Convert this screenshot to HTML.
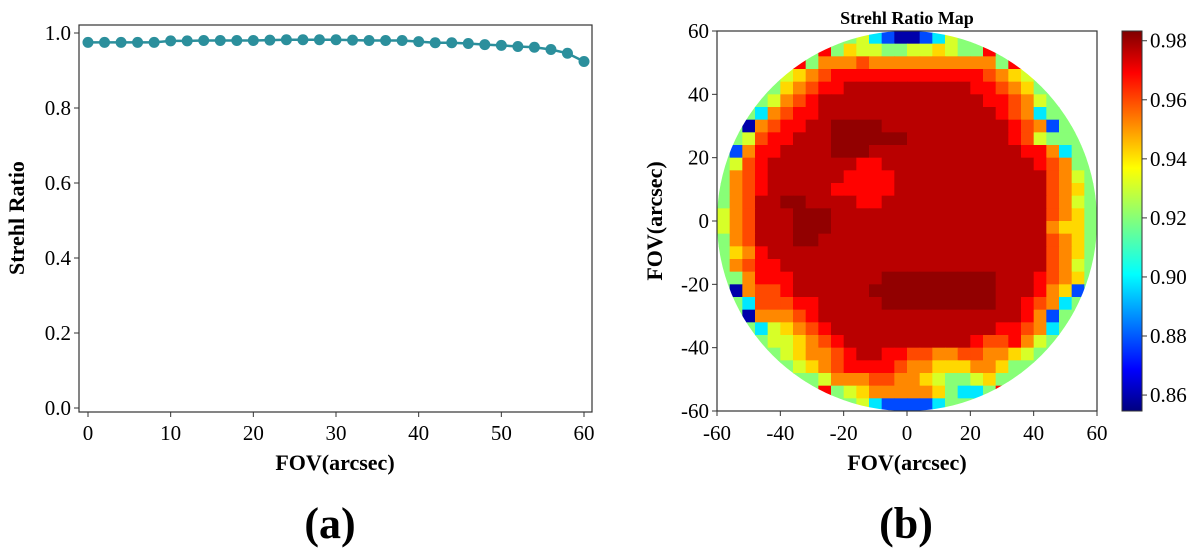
<!DOCTYPE html>
<html><head><meta charset="utf-8">
<style>
html,body{margin:0;padding:0;background:#fff;}
svg, svg text{font-family:"Liberation Serif","DejaVu Serif",serif;}
svg{display:block;}
</style></head>
<body>
<svg id="fig" width="1200" height="560" viewBox="0 0 1200 560" font-family="Liberation Serif, serif">
<defs>
<clipPath id="circ"><circle cx="907" cy="221" r="190"/></clipPath>
<linearGradient id="jet" x1="0" y1="1" x2="0" y2="0">
<stop offset="0" stop-color="#00007f"/><stop offset="0.11" stop-color="#0000ff"/><stop offset="0.36" stop-color="#00ffff"/><stop offset="0.5" stop-color="#7fff7f"/><stop offset="0.64" stop-color="#ffff00"/><stop offset="0.89" stop-color="#ff0000"/><stop offset="1" stop-color="#7f0000"/>
</linearGradient>
</defs>
<g id="left"></g>
<g id="right"></g>
<text x="330" y="538" text-anchor="middle" font-size="44" font-weight="bold">(a)</text>
<text x="906" y="538" text-anchor="middle" font-size="44" font-weight="bold">(b)</text>
</svg>
<script>
const fovValues = [0,2,4,6,8,10,12,14,16,18,20,22,24,26,28,30,32,34,36,38,40,42,44,46,48,50,52,54,56,58,60];
const strehlValues = [0.975,0.975,0.975,0.975,0.975,0.979,0.979,0.980,0.980,0.980,0.980,0.981,0.982,0.982,0.982,0.982,0.981,0.980,0.980,0.980,0.977,0.974,0.974,0.972,0.969,0.967,0.964,0.962,0.956,0.946,0.924];
const xTicksLeft = [0,10,20,30,40,50,60];
const yTicksLeft = [0.0,0.2,0.4,0.6,0.8,1.0];
const mapTicks = [-60,-40,-20,0,20,40,60];
const cbarTicks = [0.86,0.88,0.90,0.92,0.94,0.96,0.98];
const levelCodes = "BbcGgyOorRD";
const levelValues = [0.860,0.880,0.900,0.920,0.930,0.940,0.950,0.958,0.967,0.976,0.981];
const mapRows = [
"GGGGGGGGGGGgcbBBbcgGGGGGGGGGGG",
"GGGGGGGGrGyggGGggygGGrGGGGGGGG",
"GGGGGGrGOOOoOOOOOOOOOOGrGGGGGG",
"GGGGGgyOorrrrrrrrrrrroOygGGGGG",
"GGGGGyOorrRRRRRRRRRRrroOyGGGGG",
"GGGGgOorRRRRRRRRRRRRRrroOgGGGG",
"GGGcOorrRRRRRRRRRRRRRRroOcGGGG",
"GGBOorrRRDDDDRRRRRRRRRRroObGGG",
"GGgorrRRRDDDDDDRRRRRRRRrogGGGG",
"GbOrrRRRRDDDRRRRRRRRRRRRrrOcGG",
"GgorRRRRRRRrrRRRRRRRRRRRRroOGG",
"GOorRRRRRRrrrrRRRRRRRRRRRRoOgG",
"GOorRRRRRrrrrrRRRRRRRRRRRRoOyG",
"GOoRRDDRRRRrrRRRRRRRRRRRRRoOgG",
"gOoRRRDDDRRRRRRRRRRRRRRRRRoOyG",
"gOoRRRDDDRRRRRRRRRRRRRRRRROyyG",
"GOoRRRDDRRRRRRRRRRRRRRRRRRoOyG",
"GyOrRRRRRRRRRRRRRRRRRRRRRRoOyG",
"GOorrRRRRRRRRRRRRRRRRRRRRRoOgG",
"GGOrrrRRRRRRRDDDDDDDDDRRRroOyG",
"GBOoorRRRRRRDDDDDDDDDDRRRrOybG",
"GGcooorrRRRRRDDDDDDDDDRRroOcGG",
"GGBOOOorRRRRRRRRRRRRRRRRrObGGG",
"GGGcgyOorRRRRRRRRRRRRRrroOcGGG",
"GGGGggyOorRRRRRRRRRRroorOgGGGG",
"GGGGGgyOOorRRrrooOOooOOygGGGGG",
"GGGGGGgyOorrrroOOyyyOOyGGGGGGG",
"GGGGGGGGgOOOooOOygGGgyGGGGGGGG",
"GGGGGGGGrGgyOOOOOyGccGrGGGGGGG",
"GGGGGGGGGGGgcbbbbcGGGGGGGGGGGG"
];
const NS="http://www.w3.org/2000/svg";
function mk(parent,tag,attrs,text){const e=document.createElementNS(NS,tag);for(const k in attrs)e.setAttribute(k,attrs[k]);if(text!==undefined)e.textContent=text;parent.appendChild(e);return e;}

// ---------- left chart ----------
const L=document.getElementById('left');
const lx=v=>88+(v-0)*(584-88)/60;
const ly=v=>408-v*375;
let fr=mk(L,'rect',{x:79,y:25,width:513,height:387,fill:'none',stroke:'#333','stroke-width':1.2});


xTicksLeft.forEach(t=>{
  let tk=mk(L,'line',{x1:lx(t),x2:lx(t),y1:412,y2:417,stroke:'#333'});
  
  
  let tl=mk(L,'text',{x:lx(t),y:440,'text-anchor':'middle','font-size':21},String(t));
  
  
});
yTicksLeft.forEach(t=>{
  let tk=mk(L,'line',{x1:74,x2:79,y1:ly(t),y2:ly(t),stroke:'#333'});
  
  
  let tl=mk(L,'text',{x:71,y:ly(t)+7,'text-anchor':'end','font-size':21},t.toFixed(1));
  
  
});
let xt=mk(L,'text',{x:335,y:470,'text-anchor':'middle','font-size':22,'font-weight':'bold'},'FOV(arcsec)');


let yt=mk(L,'text',{x:0,y:0,transform:'translate(24,218) rotate(-90)','text-anchor':'middle','font-size':22,'font-weight':'bold'},'Strehl Ratio');


let pts=fovValues.map((f,i)=>lx(f)+','+ly(strehlValues[i])).join(' ');
let pl=mk(L,'polyline',{points:pts,fill:'none',stroke:'#2b8f9c','stroke-width':2.5});


fovValues.forEach((f,i)=>{
  let c=mk(L,'circle',{cx:lx(f),cy:ly(strehlValues[i]),r:5.5,fill:'#2b8f9c'});
  
  
});

// ---------- right map ----------
const R=document.getElementById('right');
const mx=v=>717+(v+60)*(1097-717)/120;
const my=v=>31+(60-v)*(411-31)/120;
const vmin=0.8546,vmax=0.9833;
function jet(v){let t=(v-vmin)/(vmax-vmin);t=Math.max(0,Math.min(1,t));
 const r=Math.max(0,Math.min(1,1.5-Math.abs(4*t-3))),g=Math.max(0,Math.min(1,1.5-Math.abs(4*t-2))),b=Math.max(0,Math.min(1,1.5-Math.abs(4*t-1)));
 return 'rgb('+Math.round(r*255)+','+Math.round(g*255)+','+Math.round(b*255)+')';}
const cells=mk(R,'g',{'clip-path':'url(#circ)'});


mapRows.forEach((row,ri)=>{
  for(let ci=0;ci<row.length;ci++){
    const val=levelValues[levelCodes.indexOf(row[ci])];
    const x0=-60+ci*4, y0=60-ri*4;
    const c=mk(cells,'rect',{x:mx(x0),y:my(y0),width:mx(x0+4)-mx(x0)+0.5,height:my(y0-4)-my(y0)+0.5,fill:jet(val)});
    
    
  }
});
let fr2=mk(R,'rect',{x:717,y:31,width:380,height:380,fill:'none',stroke:'#333','stroke-width':1.2});


mapTicks.forEach(t=>{
  let a=mk(R,'line',{x1:mx(t),x2:mx(t),y1:411,y2:416,stroke:'#333'});
  
  
  let b=mk(R,'text',{x:mx(t),y:440,'text-anchor':'middle','font-size':21},String(t));
  
  
  let c=mk(R,'line',{x1:712,x2:717,y1:my(t),y2:my(t),stroke:'#333'});
  
  
  let d=mk(R,'text',{x:709,y:my(t)+7,'text-anchor':'end','font-size':21},String(t));
  
  
});
let mt=mk(R,'text',{x:907,y:24,'text-anchor':'middle','font-size':18,'font-weight':'bold'},'Strehl Ratio Map');


let mxt=mk(R,'text',{x:907,y:470,'text-anchor':'middle','font-size':22,'font-weight':'bold'},'FOV(arcsec)');


let myt=mk(R,'text',{x:0,y:0,transform:'translate(662,221) rotate(-90)','text-anchor':'middle','font-size':22,'font-weight':'bold'},'FOV(arcsec)');


// colorbar
const cy=v=>411-(v-vmin)*(411-31)/(vmax-vmin);
let cb=mk(R,'rect',{x:1122,y:31,width:20,height:380,fill:'url(#jet)',stroke:'#333','stroke-width':1});


cbarTicks.forEach(t=>{
  let a=mk(R,'line',{x1:1142,x2:1147,y1:cy(t),y2:cy(t),stroke:'#333'});
  
  
  let b=mk(R,'text',{x:1150,y:cy(t)+7,'font-size':21},t.toFixed(2));
  
  
});
</script>
</body></html>
